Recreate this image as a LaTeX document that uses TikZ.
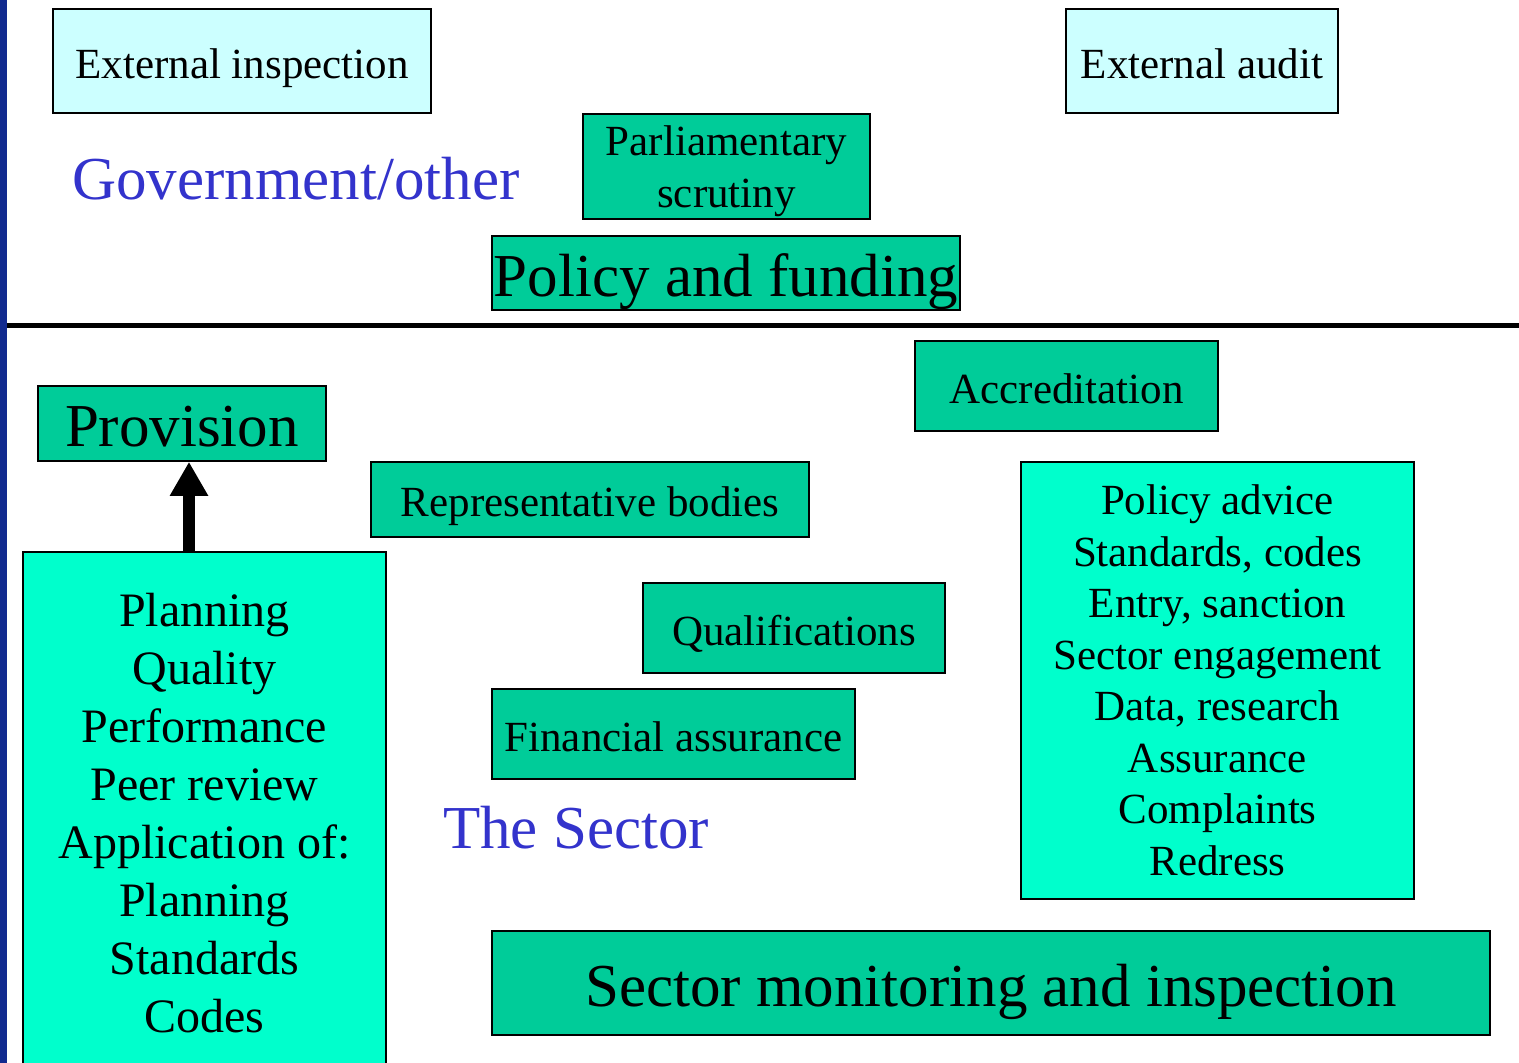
\documentclass[tikz,border=0pt]{standalone}
\usepackage{fontspec}
\setmainfont{Liberation Serif}
\usepackage{tikz}
\usetikzlibrary{arrows.meta}
\usepackage{xcolor}
\definecolor{darkbox}{HTML}{00CC99}
\definecolor{lightbox}{HTML}{00FFCC}
\definecolor{palebox}{HTML}{CCFFFF}
\definecolor{labelblue}{HTML}{3333CC}
\definecolor{barblue}{HTML}{112A8F}
\newcommand{\txtA}{\fontsize{43}{51.5}\selectfont}
\newcommand{\txtB}{\fontsize{48}{58}\selectfont}
\newcommand{\txtC}{\fontsize{61}{70}\selectfont}

\begin{document}
\begin{tikzpicture}[x=1pt, y=-1pt,
    box/.style={draw, rectangle, line width=1.6pt, inner sep=0pt, align=center},
    lineA/.style={font=\txtA, text height=34pt, text depth=0pt},
    lineC/.style={font=\txtC, text height=46pt, text depth=0pt},
    blueword/.style={text=labelblue, inner sep=0pt, font=\txtC}] % coordinates in pixels, y downwards
            \useasboundingbox (0,0) rectangle (1519,1063);
            % left bar and separator
            \fill[barblue] (0,0) rectangle (7,1063);
            \draw[line width=5pt] (7,325) -- (1519,325);

            % Government/other
            \node[box, lineA, fill=palebox, minimum width=378pt, minimum height=104pt] (extinsp) at (242,61) {External inspection};
            \node[box, lineA, fill=palebox, minimum width=272pt, minimum height=104pt] (extaudit) at (1202,61) {External audit};
            \node[blueword] (gov) at (296,179) {Government/other};
            \node[box, fill=darkbox, font=\txtA, text depth=0pt, minimum width=287pt, minimum height=105pt] (parl) at (726.5,166.5) {Parliamentary\\scrutiny};
            \node[box, lineC, fill=darkbox, minimum width=468pt, minimum height=74pt] (policy) at (726,273) {Policy and funding};

            % The Sector
            \node[box, lineC, fill=darkbox, minimum width=288pt, minimum height=75pt] (prov) at (182,423.5) {Provision};
            \node[box, fill=lightbox, font=\txtB, minimum width=363pt, minimum height=522pt] (plan) at (204.5,813)
                {Planning\\Quality\\Performance\\Peer review\\Application of:\\Planning\\Standards\\Codes};
            \coordinate (armfoot) at (189,552);
            \draw[line width=12pt, -{Triangle[width=36pt, length=34pt]}] (armfoot) -- (armfoot |- prov.south);

            \node[box, lineA, fill=darkbox, minimum width=303pt, minimum height=90pt] (accr) at (1066.5,386) {Accreditation};
            \node[box, lineA, fill=darkbox, minimum width=438pt, minimum height=75pt] (repr) at (590,499.5) {Representative bodies};
            \node[box, lineA, fill=darkbox, minimum width=302pt, minimum height=90pt] (qual) at (794,628) {Qualifications};
            \node[box, lineA, fill=darkbox, minimum width=363pt, minimum height=90pt] (finance) at (673.5,734) {Financial assurance};
            \node[blueword] (sector) at (576,828) {The Sector};
            \node[box, fill=lightbox, font=\txtA, minimum width=393pt, minimum height=437pt] (advice) at (1217.5,680.5)
                {Policy advice\\Standards, codes\\Entry, sanction\\Sector engagement\\Data, research\\Assurance\\Complaints\\Redress};
            \node[box, lineC, fill=darkbox, minimum width=998pt, minimum height=104pt] (monitor) at (991,983) {Sector monitoring and inspection};
        \end{tikzpicture}
\end{document}
